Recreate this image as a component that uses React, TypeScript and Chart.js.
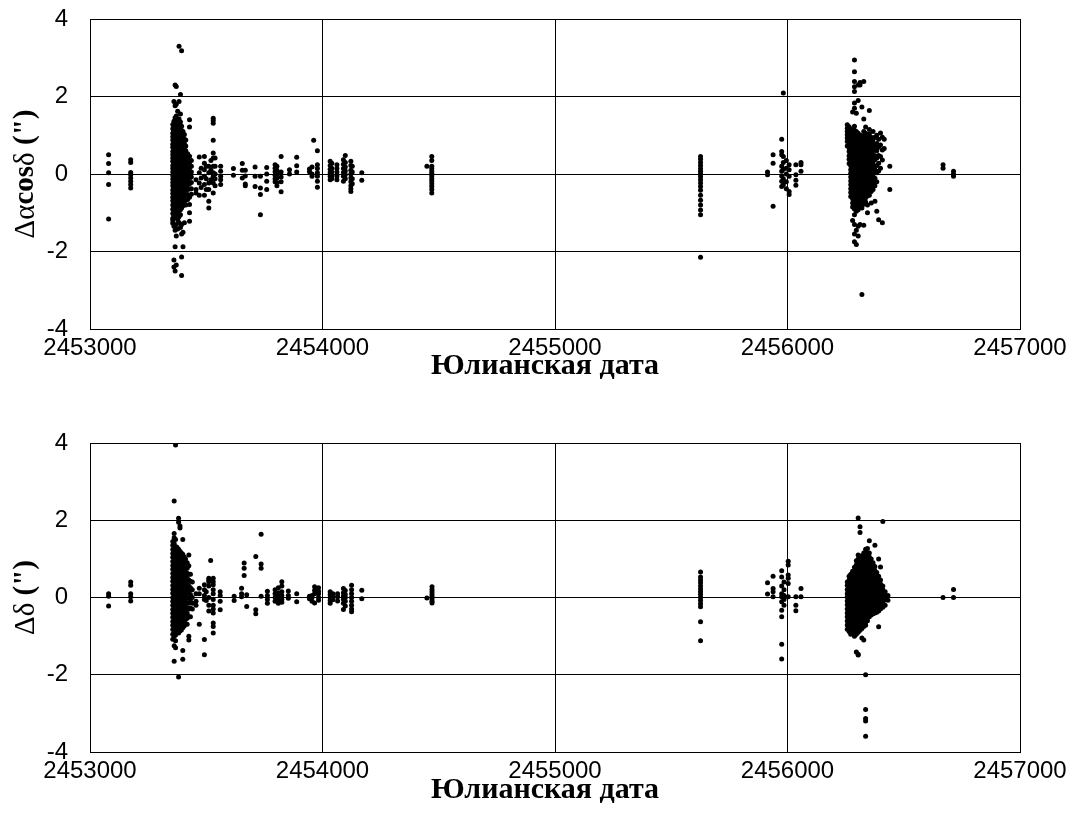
import React, { useEffect, useRef } from "react";
import { Chart, registerables } from "chart.js";

Chart.register(...registerables);

type Night = [number, number[]];

// ---- axis ticks & texts ----
const xTickValues = [2453000, 2454000, 2455000, 2456000, 2457000];
const yTickValues = [-4, -2, 0, 2, 4];
const xTitle = "Юлианская дата";
const raTitleParts: [string, boolean][] = [["Δα", false], ["cos", true], ["δ ", false], ['(")', true]];
const decTitleParts: [string, boolean][] = [["Δδ ", false], ['(")', true]];

// ---- Δα cos δ  (top panel): [JD, values...] ----
const ra2004: Night[] = [
  [2453080, [0.5, 0.27, 0.03, -0.27, -1.16]],
  [2453175, [0.37, 0.3, 0.04, -0.02, -0.1, -0.19, -0.27, -0.36]],
];

const raMain2005: Night[] = [
  [2453356, [1.28, 1.17, 1.05, 0.96, 0.88, 0.77, 0.69, 0.58, 0.5, 0.41, 0.33, 0.22, 0.14, 0.05, -0.04, -0.13, -0.22, -0.3, -0.41, -0.5, -0.6, -0.69, -0.8, -0.91, -1.02, -1.14, -1.2, -1.27]],
  [2453361, [1.87, 1.36, 1.22, 1.1, 1.0, 0.91, 0.8, 0.72, 0.63, 0.53, 0.44, 0.36, 0.27, 0.18, 0.09, 0.0, -0.08, -0.17, -0.27, -0.35, -0.45, -0.55, -0.64, -0.74, -0.85, -0.96, -1.08, -1.35, -2.22, -2.4]],
  [2453366, [2.3, 1.76, 1.45, 1.3, 1.19, 1.08, 0.97, 0.87, 0.78, 0.67, 0.59, 0.48, 0.39, 0.3, 0.2, 0.11, 0.02, -0.07, -0.16, -0.26, -0.37, -0.46, -0.57, -0.66, -0.77, -0.88, -0.99, -1.12, -1.45, -1.88, -2.5]],
  [2453371, [2.26, 1.8, 1.5, 1.24, 1.13, 1.02, 0.92, 0.82, 0.72, 0.62, 0.52, 0.43, 0.33, 0.24, 0.15, 0.06, -0.03, -0.12, -0.21, -0.31, -0.41, -0.51, -0.61, -0.71, -0.82, -0.94, -1.05, -1.3, -1.6, -2.35]],
  [2453377, [1.62, 1.38, 1.2, 1.08, 0.98, 0.86, 0.76, 0.66, 0.56, 0.46, 0.37, 0.27, 0.18, 0.08, -0.01, -0.1, -0.2, -0.29, -0.39, -0.48, -0.58, -0.68, -0.79, -0.9, -1.02, -1.18, -1.42]],
  [2453383, [3.3, 1.87, 1.42, 1.27, 1.14, 1.03, 0.93, 0.83, 0.73, 0.63, 0.54, 0.44, 0.35, 0.25, 0.16, 0.07, -0.02, -0.11, -0.21, -0.3, -0.4, -0.5, -0.6, -0.71, -0.82, -0.95, -1.1, -1.25]],
  [2453389, [2.05, 1.55, 1.34, 1.18, 1.06, 0.95, 0.85, 0.75, 0.65, 0.55, 0.45, 0.36, 0.26, 0.17, 0.08, -0.01, -0.11, -0.2, -0.3, -0.39, -0.49, -0.59, -0.7, -0.8, -0.92, -1.05, -1.38]],
  [2453394, [3.18, 1.23, 1.12, 1.0, 0.9, 0.8, 0.7, 0.6, 0.5, 0.41, 0.31, 0.22, 0.12, 0.03, -0.06, -0.15, -0.25, -0.34, -0.44, -0.54, -0.65, -0.76, -0.88, -1.3, -1.55, -2.14, -2.62]],
  [2453400, [1.1, 0.98, 0.86, 0.76, 0.66, 0.57, 0.47, 0.38, 0.28, 0.19, 0.1, 0.0, -0.09, -0.18, -0.28, -0.38, -0.48, -0.58, -0.7, -0.82, -1.5, -1.88]],
  [2453406, [1.02, 0.9, 0.78, 0.67, 0.56, 0.46, 0.36, 0.26, 0.16, 0.06, -0.04, -0.14, -0.24, -0.35, -0.46, -0.57, -0.7, -1.26]],
  [2453412, [0.88, 0.72, 0.6, 0.48, 0.37, 0.25, 0.14, 0.03, -0.08, -0.19, -0.3, -0.42, -0.55, -0.68, -0.8]],
  [2453420, [0.52, 0.4, 0.28, 0.17, 0.06, -0.05, -0.16, -0.28, -0.4, -0.53, -0.66]],
  [2453428, [1.4, 1.21, 0.46, 0.3, 0.15, 0.02, -0.1, -0.25, -0.39, -0.6, -0.79, -1.0, -1.22]],
  [2453436, [0.35, 0.2, 0.05, -0.08, -0.22, -0.38, -0.52]],
];

const raLate2005: Night[] = [
  [2453456, [-0.15, -0.4, -0.49]],
  [2453470, [0.44, 0.03, -0.23, -0.55]],
  [2453478, [0.15, -0.1, -0.35]],
  [2453492, [0.45, 0.28, 0.11, -0.06, -0.27, -0.55]],
  [2453500, [0.2, -0.12, -0.4]],
  [2453511, [0.2, 0.03, -0.23, -0.4, -0.7, -0.88]],
  [2453520, [0.35, 0.1, -0.15]],
  [2453530, [1.44, 1.38, 1.31, 0.87, 0.54, 0.41, 0.2, 0.03, -0.06, -0.23, -0.49]],
  [2453538, [0.41, 0.2, 0.0, -0.12, -0.3]],
  [2453562, [0.2, 0.07, -0.06, -0.15, -0.27]],
];

const raMid: Night[] = [
  [2453617, [0.14, -0.03]],
  [2453655, [0.27, 0.1, -0.1]],
  [2453668, [0.1, -0.05, -0.26, -0.3]],
  [2453710, [0.18, -0.06, -0.32]],
  [2453733, [-0.06, -0.36, -0.53, -1.05]],
  [2453760, [0.17, 0.0, -0.19, -0.4]],
  [2453796, [0.24, 0.15, 0.06, -0.03, -0.12, -0.2]],
  [2453804, [0.2, 0.1, 0.0, -0.1, -0.22, -0.3]],
  [2453822, [0.45, 0.05, -0.08, -0.2, -0.46]],
  [2453858, [0.11, 0.0]],
  [2453889, [0.43, 0.21, 0.05]],
  [2453944, [0.13, 0.06]],
  [2453955, [0.18, 0.0, -0.06]],
  [2453962, [0.87]],
  [2453978, [0.6, 0.24, 0.14, 0.03, -0.06, -0.19, -0.34]],
  [2454033, [0.33, 0.22, 0.12, 0.03, -0.06, -0.15]],
  [2454040, [0.28, 0.15, 0.05, -0.05, -0.12]],
  [2454062, [0.24, 0.14, 0.05, -0.05, -0.15]],
  [2454090, [0.37, 0.25, 0.14, 0.04, -0.06, -0.19]],
  [2454098, [0.48, 0.3, 0.18, 0.08, -0.02, -0.12]],
  [2454122, [0.33, 0.22, 0.1, 0.0, -0.1, -0.2, -0.3, -0.38, -0.45]],
  [2454128, [0.2, 0.05, -0.12, -0.25]],
  [2454169, [0.03, -0.16]],
  [2454449, [0.2]],
  [2454470, [0.45, 0.35, 0.2, 0.14, 0.08, 0.02, -0.05, -0.12, -0.18, -0.25, -0.32, -0.4, -0.49]],
];

const ra2011to2012: Night[] = [
  [2455626, [0.45, 0.38, 0.3, 0.22, 0.14, 0.07, 0.0, -0.07, -0.15, -0.23, -0.32, -0.42, -0.55, -0.68, -0.8, -0.93, -1.05, -2.15]],
  [2455914, [0.05, -0.02]],
  [2455938, [0.5, 0.28, -0.83]],
  [2455975, [0.9, 0.58, 0.5, 0.2, 0.07, -0.05, -0.19, -0.32]],
  [2455982, [2.09, 0.45, 0.3, 0.12, -0.12, -0.28]],
  [2455995, [0.35, 0.15, 0.0, -0.2, -0.38]],
  [2456007, [0.24, 0.11, -0.06, -0.45, -0.53]],
  [2456036, [0.24, -0.02, -0.16, -0.29]],
  [2456058, [0.3, 0.24, 0.07]],
];

const raMain2013: Night[] = [
  [2456257, [1.27, 1.18, 1.1, 1.01, 0.93, 0.84, 0.72]],
  [2456265, [1.22, 1.12, 1.03, 0.95, 0.85, 0.76, 0.67, 0.58, 0.47, 0.38, 0.27]],
  [2456272, [1.16, 1.06, 0.97, 0.87, 0.78, 0.68, 0.59, 0.49, 0.4, 0.3, 0.21, 0.11, 0.02, -0.08, -0.18, -0.28, -0.38, -0.48, -0.58]],
  [2456280, [1.6, 1.09, 0.99, 0.9, 0.8, 0.71, 0.61, 0.52, 0.42, 0.33, 0.23, 0.14, 0.04, -0.05, -0.15, -0.24, -0.34, -0.44, -0.54, -0.64, -0.75, -0.85, -1.2]],
  [2456288, [2.94, 2.64, 2.39, 2.25, 2.13, 1.83, 1.7, 1.23, 1.13, 1.04, 0.94, 0.85, 0.75, 0.66, 0.56, 0.47, 0.37, 0.28, 0.18, 0.09, -0.01, -0.1, -0.2, -0.29, -0.39, -0.48, -0.58, -0.68, -0.79, -0.9, -1.05, -1.3, -1.55, -1.75]],
  [2456296, [1.57, 1.1, 1.0, 0.91, 0.81, 0.72, 0.62, 0.53, 0.43, 0.34, 0.24, 0.15, 0.05, -0.04, -0.14, -0.23, -0.33, -0.43, -0.53, -0.63, -0.74, -0.86, -0.96, -1.45, -1.82]],
  [2456304, [2.3, 1.9, 1.05, 0.95, 0.86, 0.76, 0.67, 0.57, 0.48, 0.38, 0.29, 0.19, 0.1, 0.0, -0.09, -0.19, -0.28, -0.38, -0.48, -0.58, -0.69, -0.8, -0.92, -1.35, -1.6]],
  [2456312, [2.36, 2.3, 1.0, 0.9, 0.81, 0.71, 0.62, 0.52, 0.43, 0.33, 0.24, 0.14, 0.05, -0.05, -0.14, -0.24, -0.33, -0.43, -0.53, -0.63, -0.74, -0.86, -1.3]],
  [2456320, [1.73, 0.98, 0.88, 0.79, 0.69, 0.6, 0.5, 0.41, 0.31, 0.22, 0.12, 0.03, -0.07, -0.16, -0.26, -0.35, -0.45, -0.55, -0.66, -0.78, -0.88, -3.11]],
  [2456328, [2.39, 1.42, 1.1, 0.99, 0.9, 0.8, 0.71, 0.61, 0.52, 0.42, 0.33, 0.23, 0.14, 0.04, -0.05, -0.15, -0.24, -0.34, -0.44, -0.55, -0.66, -0.78, -1.32]],
  [2456336, [1.21, 1.05, 0.95, 0.86, 0.76, 0.67, 0.57, 0.48, 0.38, 0.29, 0.19, 0.1, 0.0, -0.09, -0.19, -0.29, -0.39, -0.5, -0.61, -0.72]],
  [2456344, [1.0, 0.91, 0.81, 0.72, 0.62, 0.53, 0.43, 0.34, 0.24, 0.15, 0.05, -0.04, -0.14, -0.24, -0.34, -0.45, -0.57, -0.8, -1.0]],
  [2456352, [1.64, 1.15, 1.03, 0.92, 0.83, 0.73, 0.64, 0.54, 0.45, 0.35, 0.26, 0.16, 0.07, -0.03, -0.12, -0.22, -0.33, -0.44, -0.55]],
  [2456360, [0.95, 0.85, 0.76, 0.66, 0.57, 0.47, 0.38, 0.28, 0.19, 0.09, 0.0, -0.1, -0.2, -0.31, -0.45, -0.75]],
  [2456368, [1.1, 0.9, 0.8, 0.7, 0.61, 0.51, 0.42, 0.32, 0.23, 0.13, 0.04, -0.06, -0.16, -0.27, -0.4]],
  [2456376, [0.95, 0.75, 0.66, 0.47, 0.37, 0.18, 0.09, -0.11, -0.21, -0.3, -0.7]],
  [2456384, [1.0, 0.79, 0.6, 0.41, 0.22, 0.03, -0.2, -0.96]],
  [2456392, [0.9, 0.69, 0.48, 0.28, 0.08, -1.18]],
  [2456400, [1.06, 0.75, 0.45, 0.15]],
  [2456408, [0.95, 0.62, 0.36, -1.26]],
  [2456416, [0.9, 0.66]],
  [2456440, [0.2, -0.4]],
];

const ra2014: Night[] = [
  [2456669, [0.24, 0.15]],
  [2456714, [0.07, 0.0, -0.06]],
];

// ---- Δδ (bottom panel): [JD, values...] ----
const dec2004: Night[] = [
  [2453080, [0.1, 0.03, -0.22]],
  [2453175, [0.4, 0.32, 0.1, 0.02, -0.09]],
];

const decMain2005: Night[] = [
  [2453356, [1.45, 1.35, 1.24, 1.14, 1.04, 0.93, 0.83, 0.73, 0.62, 0.52, 0.42, 0.31, 0.21, 0.11, 0.0, -0.1, -0.2, -0.31, -0.41, -0.51, -0.62, -0.72, -0.83, -0.95, -1.08]],
  [2453362, [2.5, 1.66, 1.55, 1.4, 1.29, 1.19, 1.09, 0.98, 0.88, 0.78, 0.67, 0.57, 0.47, 0.36, 0.26, 0.16, 0.05, -0.05, -0.15, -0.26, -0.36, -0.46, -0.57, -0.67, -0.78, -0.9, -1.0, -1.25, -1.65]],
  [2453368, [3.95, 1.5, 1.32, 1.22, 1.12, 1.01, 0.91, 0.81, 0.7, 0.6, 0.5, 0.39, 0.29, 0.19, 0.08, -0.02, -0.12, -0.23, -0.33, -0.43, -0.54, -0.64, -0.75, -0.86, -0.97, -1.12, -1.3]],
  [2453374, [1.3, 1.2, 1.1, 0.99, 0.89, 0.79, 0.68, 0.58, 0.48, 0.37, 0.27, 0.17, 0.06, -0.04, -0.14, -0.25, -0.35, -0.45, -0.56, -0.66, -0.77, -0.9]],
  [2453381, [2.05, 1.95, 1.25, 1.15, 1.05, 0.94, 0.84, 0.74, 0.63, 0.53, 0.43, 0.32, 0.22, 0.12, 0.01, -0.09, -0.19, -0.3, -0.4, -0.5, -0.61, -0.71, -0.82, -0.92, -2.06]],
  [2453387, [1.85, 1.8, 1.2, 1.1, 1.0, 0.89, 0.79, 0.69, 0.58, 0.48, 0.38, 0.27, 0.17, 0.07, -0.04, -0.14, -0.24, -0.35, -0.45, -0.55, -0.66, -0.76, -0.87]],
  [2453393, [1.15, 1.04, 0.94, 0.84, 0.73, 0.63, 0.53, 0.42, 0.32, 0.22, 0.11, 0.01, -0.09, -0.2, -0.3, -0.4, -0.51, -0.61, -0.72, -0.84]],
  [2453399, [1.5, 1.12, 1.01, 0.91, 0.81, 0.7, 0.6, 0.5, 0.39, 0.29, 0.19, 0.08, -0.02, -0.12, -0.23, -0.33, -0.43, -0.54, -0.64, -0.78, -1.37, -1.6]],
  [2453405, [1.05, 0.95, 0.85, 0.74, 0.64, 0.54, 0.43, 0.33, 0.23, 0.12, 0.02, -0.08, -0.19, -0.29, -0.39, -0.5, -0.6, -0.74]],
  [2453411, [1.0, 0.88, 0.77, 0.66, 0.55, 0.44, 0.33, 0.22, 0.11, 0.0, -0.11, -0.22, -0.33, -0.44, -0.56, -0.68]],
  [2453418, [0.9, 0.76, 0.63, 0.5, 0.37, 0.24, 0.11, -0.02, -0.15, -0.28, -0.41, -0.54, -0.69]],
  [2453425, [1.1, 0.82, 0.6, 0.45, 0.3, 0.15, 0.0, -0.15, -0.3, -0.5, -1.0, -1.1]],
  [2453432, [0.6, 0.42, 0.25, 0.08, -0.1, -0.28, -0.5]],
  [2453440, [0.4, 0.2, 0.0, -0.15, -0.3]],
];

const decLate2005: Night[] = [
  [2453456, [0.1, -0.1, -0.2]],
  [2453470, [0.24, 0.1, -0.69]],
  [2453492, [0.33, 0.2, 0.05, -0.05, -1.09, -1.48]],
  [2453500, [0.15, -0.08]],
  [2453511, [0.5, 0.45, 0.41, 0.3, 0.0, -0.2, -0.35]],
  [2453519, [0.96]],
  [2453530, [0.5, 0.41, 0.33, 0.2, 0.1, -0.05, -0.2, -0.3, -0.4, -0.66, -0.75, -0.92]],
  [2453560, [0.15, 0.05, -0.1, -0.32]],
];

const decMid: Night[] = [
  [2453620, [0.03, -0.08]],
  [2453652, [0.24, 0.1, 0.02]],
  [2453663, [0.89, 0.76, 0.57]],
  [2453674, [0.07, -0.23]],
  [2453713, [1.06, -0.32, -0.42]],
  [2453736, [1.64, 0.87, 0.76, 0.03]],
  [2453763, [0.16, 0.05, -0.05, -0.15]],
  [2453796, [0.2, 0.1, 0.0, -0.1]],
  [2453810, [0.25, 0.12, 0.02, -0.08, -0.15]],
  [2453825, [0.41, 0.3, 0.15, 0.05, -0.05, -0.12]],
  [2453853, [0.17, 0.05, -0.02]],
  [2453889, [0.1, -0.11]],
  [2453944, [0.03, -0.03]],
  [2453955, [0.05, 0.0, -0.1]],
  [2453966, [0.28, 0.18, 0.1, -0.14]],
  [2453983, [0.25, 0.16, 0.1, 0.0, -0.07]],
  [2454033, [0.15, 0.08, 0.0, -0.08, -0.15]],
  [2454045, [0.1, 0.02, -0.06]],
  [2454065, [0.1, 0.02, -0.09]],
  [2454090, [0.23, 0.12, 0.04, -0.05, -0.15, -0.31]],
  [2454098, [0.18, 0.08, 0.0, -0.1, -0.22]],
  [2454125, [0.32, 0.2, 0.1, 0.0, -0.1, -0.2, -0.3, -0.37]],
  [2454169, [0.19, -0.03]],
  [2454449, [-0.01]],
  [2454471, [0.28, 0.2, 0.14, 0.08, 0.02, -0.04, -0.1, -0.14]],
];

const dec2011to2012: Night[] = [
  [2455626, [0.66, 0.53, 0.45, 0.38, 0.3, 0.22, 0.15, 0.08, 0.0, -0.08, -0.16, -0.24, -0.63, -1.12]],
  [2455914, [0.38, 0.09]],
  [2455938, [0.55, 0.23, 0.15, 0.02]],
  [2455975, [0.69, 0.53, 0.3, 0.1, 0.02, -0.11, -0.33, -0.5, -1.21, -1.59]],
  [2455985, [0.4, 0.2, 0.05, -0.05, -0.2]],
  [2456003, [0.94, 0.84, 0.58, 0.5, 0.36, 0.02]],
  [2456036, [0.02, -0.2, -0.34]],
  [2456058, [0.23, 0.02]],
];

const decMain2013: Night[] = [
  [2456257, [0.4, 0.31, 0.2, 0.1, 0.01, -0.09, -0.19, -0.3, -0.4, -0.5, -0.61, -0.71, -0.82]],
  [2456265, [0.55, 0.45, 0.35, 0.24, 0.14, 0.04, -0.06, -0.16, -0.27, -0.37, -0.47, -0.57, -0.68, -0.78, -0.88]],
  [2456272, [0.6, 0.5, 0.4, 0.29, 0.19, 0.09, -0.01, -0.11, -0.22, -0.32, -0.42, -0.52, -0.63, -0.73, -0.83, -0.95]],
  [2456280, [0.68, 0.58, 0.47, 0.37, 0.27, 0.16, 0.06, -0.04, -0.15, -0.25, -0.35, -0.46, -0.56, -0.66, -0.77, -0.9]],
  [2456288, [0.78, 0.68, 0.57, 0.47, 0.36, 0.26, 0.15, 0.05, -0.06, -0.16, -0.27, -0.37, -0.48, -0.58, -0.69, -0.8, -0.92, -1.0]],
  [2456296, [0.95, 0.84, 0.74, 0.63, 0.53, 0.42, 0.32, 0.21, 0.11, 0.0, -0.1, -0.21, -0.31, -0.42, -0.52, -0.63, -0.74, -0.86, -0.95, -1.41]],
  [2456304, [2.06, 1.1, 1.0, 0.89, 0.79, 0.68, 0.58, 0.47, 0.37, 0.26, 0.16, 0.05, -0.05, -0.16, -0.26, -0.37, -0.47, -0.58, -0.68, -0.8, -0.9, -1.47, -1.49]],
  [2456312, [1.83, 1.68, 1.05, 0.95, 0.84, 0.74, 0.63, 0.53, 0.42, 0.32, 0.21, 0.11, 0.0, -0.1, -0.21, -0.31, -0.42, -0.52, -0.63, -0.74, -0.85]],
  [2456320, [1.08, 0.98, 0.87, 0.77, 0.66, 0.56, 0.45, 0.35, 0.24, 0.14, 0.03, -0.07, -0.18, -0.28, -0.39, -0.49, -0.6, -0.7, -0.8, -1.05]],
  [2456328, [1.15, 1.04, 0.94, 0.83, 0.73, 0.62, 0.52, 0.41, 0.31, 0.2, 0.1, -0.01, -0.11, -0.22, -0.32, -0.43, -0.53, -0.64, -0.75, -1.1]],
  [2456336, [1.25, 1.14, 1.04, 0.93, 0.83, 0.72, 0.62, 0.51, 0.41, 0.3, 0.2, 0.09, -0.01, -0.12, -0.22, -0.33, -0.43, -0.54, -0.65, -0.72, -2.0, -2.9, -3.13, -3.2, -3.59]],
  [2456344, [1.27, 1.16, 1.06, 0.95, 0.85, 0.74, 0.64, 0.53, 0.43, 0.32, 0.22, 0.11, 0.01, -0.1, -0.2, -0.31, -0.41, -0.52, -0.6]],
  [2456352, [1.47, 1.15, 1.05, 0.94, 0.84, 0.73, 0.63, 0.52, 0.42, 0.31, 0.21, 0.1, 0.0, -0.11, -0.21, -0.32, -0.42, -0.5]],
  [2456360, [1.0, 0.9, 0.79, 0.69, 0.58, 0.48, 0.37, 0.27, 0.16, 0.06, -0.05, -0.15, -0.26, -0.36, -0.45]],
  [2456368, [0.9, 0.8, 0.69, 0.59, 0.48, 0.38, 0.27, 0.17, 0.06, -0.04, -0.15, -0.25, -0.34, -0.42]],
  [2456376, [1.35, 0.8, 0.7, 0.59, 0.49, 0.38, 0.28, 0.17, 0.07, -0.04, -0.14, -0.25, -0.33, -0.4]],
  [2456384, [0.65, 0.55, 0.44, 0.34, 0.23, 0.13, 0.02, -0.08, -0.19, -0.29, -0.38]],
  [2456392, [1.0, 0.55, 0.45, 0.34, 0.24, 0.13, 0.03, -0.08, -0.18, -0.28, -0.35, -0.76]],
  [2456400, [0.79, 0.45, 0.35, 0.24, 0.14, 0.03, -0.07, -0.18, -0.3]],
  [2456410, [1.97, 0.3, 0.2, 0.09, -0.01, -0.12, -0.25]],
  [2456420, [0.15, 0.05, -0.06, -0.2]],
  [2456432, [0.05, -0.07]],
];

const dec2014: Night[] = [
  [2456669, [0.0]],
  [2456714, [0.21, 0.0]],
];

const raGroups = [ra2004, raMain2005, raLate2005, raMid, ra2011to2012, raMain2013, ra2014];
const decGroups = [dec2004, decMain2005, decLate2005, decMid, dec2011to2012, decMain2013, dec2014];

function toPoints(groups: Night[][]) {
  const pts: { x: number; y: number }[] = [];
  for (const g of groups) for (const [jd, vals] of g) for (const v of vals) pts.push({ x: jd, y: v });
  return pts;
}

const SANS = '"Liberation Sans", Arial, Helvetica, sans-serif';
const SERIF = '"Liberation Serif", "Times New Roman", Times, serif';

function titlesPlugin(parts: [string, boolean][], xTitleY: number) {
  return {
    id: "panelTitles",
    afterDraw(chart: any) {
      const { ctx, chartArea } = chart;
      // y-axis title (mixed weights, rotated)
      const cy = (chartArea.top + chartArea.bottom) / 2;
      ctx.save();
      ctx.translate(26, cy);
      ctx.rotate(-Math.PI / 2);
      ctx.fillStyle = "#000";
      ctx.textBaseline = "middle";
      ctx.textAlign = "left";
      const fonts = parts.map(([, b]) => `${b ? "bold " : ""}29px ${SERIF}`);
      const widths = parts.map(([t], i) => {
        ctx.font = fonts[i];
        return ctx.measureText(t).width;
      });
      const total = widths.reduce((a, b) => a + b, 0);
      let x = -total / 2;
      parts.forEach(([t], i) => {
        ctx.font = fonts[i];
        ctx.fillText(t, x, 0);
        x += widths[i];
      });
      ctx.restore();
      // x-axis title
      ctx.save();
      ctx.fillStyle = "#000";
      ctx.textBaseline = "middle";
      ctx.textAlign = "center";
      ctx.font = `bold 30px ${SERIF}`;
      ctx.fillText(xTitle, 545, xTitleY);
      ctx.restore();
    },
  };
}

function buildOptions(padTop: number, axisHeight: number) {
  return {
    responsive: false,
    animation: false as const,
    devicePixelRatio: 1,
    layout: { padding: { left: 0, right: 59, top: padTop, bottom: 0 } },
    plugins: { legend: { display: false }, tooltip: { enabled: false } },
    scales: {
      x: {
        type: "linear" as const,
        min: 2453000,
        max: 2457000,
        afterBuildTicks: (s: any) => {
          s.ticks = xTickValues.map((v) => ({ value: v }));
        },
        afterFit: (s: any) => {
          s.height = axisHeight;
        },
        ticks: {
          callback: (v: any) => String(v),
          color: "#000",
          font: { family: SANS, size: 24 },
          padding: 5,
          maxRotation: 0,
          autoSkip: false,
        },
        grid: { color: "#000", lineWidth: 1, drawTicks: false },
        border: { color: "#000", width: 1 },
      },
      y: {
        type: "linear" as const,
        min: -4,
        max: 4,
        afterBuildTicks: (s: any) => {
          s.ticks = yTickValues.map((v) => ({ value: v }));
        },
        afterFit: (s: any) => {
          s.width = 90;
          s.paddingTop = 0;
          s.paddingBottom = 0;
        },
        ticks: {
          callback: (v: any) => String(v),
          color: "#000",
          font: { family: SANS, size: 24 },
          padding: 22,
        },
        grid: { color: "#000", lineWidth: 1, drawTicks: false },
        border: { color: "#000", width: 1 },
      },
    },
  };
}

type PanelProps = {
  groups: Night[][];
  titleParts: [string, boolean][];
  top: number;
  height: number;
  padTop: number;
  axisHeight: number;
  xTitleY: number;
};

function Panel({ groups, titleParts, top, height, padTop, axisHeight, xTitleY }: PanelProps) {
  const ref = useRef<HTMLCanvasElement | null>(null);
  useEffect(() => {
    if (!ref.current) return;
    const chart = new Chart(ref.current, {
      type: "scatter",
      data: {
        datasets: [
          {
            data: toPoints(groups),
            pointRadius: 2.5,
            pointHoverRadius: 2.5,
            pointBackgroundColor: "#000",
            pointBorderWidth: 0,
            showLine: false,
          },
        ],
      },
      options: buildOptions(padTop, axisHeight) as any,
      plugins: [titlesPlugin(titleParts, xTitleY)],
    });
    return () => chart.destroy();
  }, []);
  return (
    <canvas
      ref={ref}
      width={1079}
      height={height}
      style={{ position: "absolute", left: 0, top, width: 1079, height, display: "block" }}
    />
  );
}

export default function App() {
  return (
    <div style={{ position: "absolute", left: 0, top: 0, width: 1079, height: 829, background: "#fff" }}>
      <Panel groups={raGroups} titleParts={raTitleParts} top={0} height={412} padTop={19} axisHeight={83} xTitleY={366} />
      <Panel groups={decGroups} titleParts={decTitleParts} top={412} height={417} padTop={31} axisHeight={77} xTitleY={378} />
    </div>
  );
}
